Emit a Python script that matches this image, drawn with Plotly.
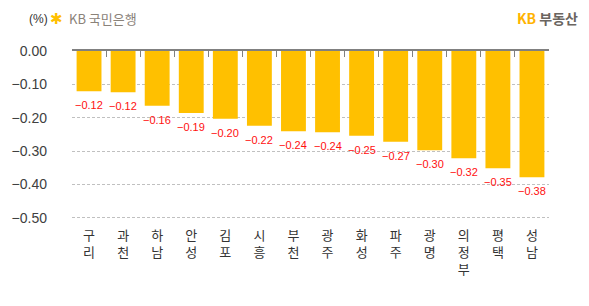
import plotly.graph_objects as go

categories = ["구리", "과천", "하남", "안성", "김포", "시흥", "부천", "광주", "화성", "파주", "광명", "의정부", "평택", "성남"]
values = [-0.121, -0.124, -0.164, -0.186, -0.203, -0.224, -0.241, -0.244, -0.254, -0.272, -0.298, -0.322, -0.352, -0.379]
y_ticks = [0.0, -0.1, -0.2, -0.3, -0.4, -0.5]

tick_text = ["<br>".join(list(c)) for c in categories]
label_text = [f"{v:.2f}".replace("-", "\u2212") for v in values]

FONT = "Liberation Sans, Noto Sans CJK KR, sans-serif"
KFONT = "Noto Sans CJK KR, sans-serif"

fig = go.Figure()
fig.add_trace(go.Bar(
    x=categories, y=values, marker=dict(color="#FFC000", line=dict(width=0)),
    hoverinfo="skip", showlegend=False,
))
fig.add_trace(go.Scatter(
    x=categories, y=[0] * len(categories), xaxis="x2", mode="markers",
    marker=dict(opacity=0), hoverinfo="skip", showlegend=False,
))

for c, v, t in zip(categories, values, label_text):
    fig.add_annotation(x=c, y=v, text=t, showarrow=False, yanchor="middle",
                       yshift=-14, font=dict(family=FONT, size=11, color="#FF1010"))

fig.add_annotation(xref="paper", yref="paper", x=-0.095, y=1.19, text="(%)", showarrow=False,
                   xanchor="left", yanchor="middle", font=dict(family=FONT, size=12, color="#333333"))
fig.add_annotation(xref="paper", yref="paper", x=-0.05, y=1.19, text="\u2731", showarrow=False,
                   xanchor="left", yanchor="middle", font=dict(family="DejaVu Sans", size=15, color="#FFC000"))
fig.add_annotation(xref="paper", yref="paper", x=-0.011, y=1.19, text="KB 국민은행", showarrow=False,
                   xanchor="left", yanchor="middle", font=dict(family=KFONT, size=13, color="#8A8279"))
fig.add_annotation(xref="paper", yref="paper", x=0.928, y=1.195,
                   text="<b><span style='color:#FFB300'>KB</span> 부동산</b>", showarrow=False,
                   xanchor="left", yanchor="middle", font=dict(family=KFONT, size=14, color="#6B6560"))

fig.update_layout(
    width=589, height=306,
    margin=dict(l=72, r=40, t=51, b=85),
    paper_bgcolor="white", plot_bgcolor="white",
    bargap=0.27,
    font=dict(family=FONT),
    xaxis=dict(
        type="category", categoryorder="array", categoryarray=categories,
        tickmode="array", tickvals=categories, ticktext=tick_text,
        range=[-0.5, len(categories) - 0.5],
        showline=False, showgrid=False, zeroline=False, ticks="",
        ticklabelstandoff=5,
        tickfont=dict(family=KFONT, size=13, color="#333333"),
    ),
    xaxis2=dict(
        type="category", categoryorder="array", categoryarray=categories,
        overlaying="x", side="top", anchor="y",
        range=[-0.5, len(categories) - 0.5],
        showline=True, linecolor="#808080", linewidth=1.5,
        ticks="inside", tickson="boundaries", ticklen=6, tickcolor="#808080", tickwidth=1,
        showticklabels=False, showgrid=False, zeroline=False,
    ),
    yaxis=dict(
        range=[-0.51, 0.0], tickmode="array", tickvals=y_ticks,
        ticktext=[f"{v:.2f}".replace("-", "\u2212") if v != 0 else "0.00" for v in y_ticks],
        showgrid=True, gridcolor="#C0C0C0", griddash="3px,2px", gridwidth=1,
        zeroline=False, showline=False, ticks="",
        ticklabelstandoff=24,
        tickfont=dict(family=FONT, size=14, color="#404040"),
    ),
)

fig.write_html("out.html")
